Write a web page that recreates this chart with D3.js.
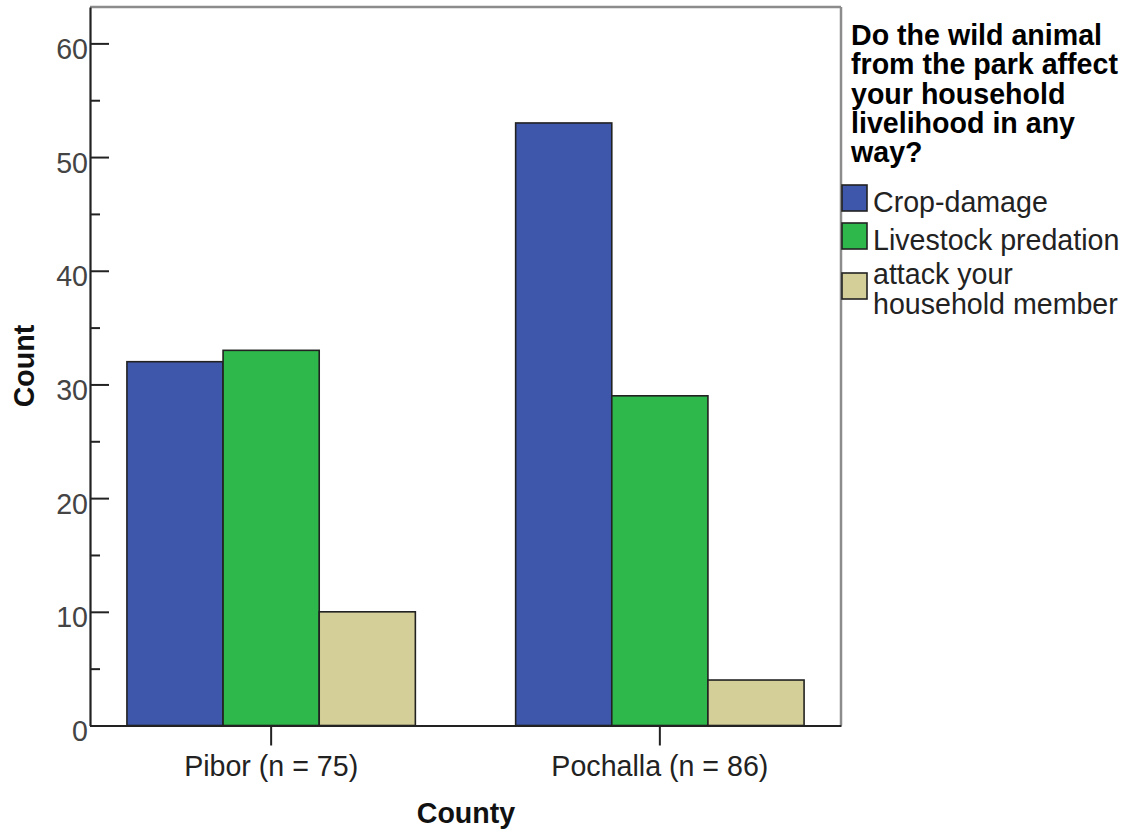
<!DOCTYPE html>
<html>
<head>
<meta charset="utf-8">
<script src="https://cdn.jsdelivr.net/npm/d3@7/dist/d3.min.js"></script>
<style>
  html, body { margin: 0; padding: 0; background: #fff; }
  text { font-family: "Liberation Sans", Arial, sans-serif; }
</style>
</head>
<body>
<svg id="chart" width="1144" height="836"></svg>
<script>
const categories = ["Pibor (n = 75)", "Pochalla (n = 86)"];
const seriesNames = ["Crop-damage", "Livestock predation", "attack your household member"];
const seriesLabelLines = [["Crop-damage"], ["Livestock predation"], ["attack your", "household member"]];
const cropDamage = [32, 53];
const livestockPredation = [33, 29];
const attackMember = [10, 4];
const seriesValues = [cropDamage, livestockPredation, attackMember];
const seriesColors = ["#3e57aa", "#2eb84b", "#d4cf98"];
const yTicks = [0, 10, 20, 30, 40, 50, 60];
const yMinorTicks = [5, 15, 25, 35, 45, 55];
const legendTitleLines = ["Do the wild animal", "from the park affect", "your household", "livelihood in any", "way?"];
const xTitle = "County";
const yTitle = "Count";

(function () {
const svg = d3.select("#chart");
const pLeft = 90, pRight = 841, pTop = 7, pBottom = 725.5;
const FONT = 28.6;

const y = d3.scaleLinear().domain([0, 63.2]).range([pBottom, pTop]);
const x0 = d3.scaleBand().domain(categories).range([pLeft, pRight])
  .paddingInner(0.258).paddingOuter(0.095);
const x1 = d3.scaleBand().domain(seriesNames).range([0, x0.bandwidth()]).padding(0);

// bars
const g = svg.append("g");
categories.forEach((c, ci) => {
  seriesNames.forEach((s, si) => {
    const v = seriesValues[si][ci];
    g.append("rect")
      .attr("x", x0(c) + x1(s))
      .attr("y", y(v))
      .attr("width", x1.bandwidth())
      .attr("height", y(0) - y(v))
      .attr("fill", seriesColors[si])
      .attr("stroke", "#222")
      .attr("stroke-width", 1.6);
  });
});

// frame (top and right, gray)
svg.append("line").attr("x1", pLeft).attr("x2", pRight).attr("y1", pTop).attr("y2", pTop)
  .attr("stroke", "#8c8c8c").attr("stroke-width", 2.5);
svg.append("line").attr("x1", pRight).attr("x2", pRight).attr("y1", pTop).attr("y2", pBottom)
  .attr("stroke", "#8c8c8c").attr("stroke-width", 2.5);

// y axis minor ticks
svg.append("g").attr("transform", `translate(${pLeft},0)`)
  .call(d3.axisLeft(y).tickValues(yMinorTicks).tickSizeInner(-10).tickSizeOuter(0).tickFormat(""))
  .call(a => a.select(".domain").remove())
  .call(a => a.selectAll("line").attr("stroke", "#222").attr("stroke-width", 2));

// y axis major
const yAx = svg.append("g").attr("transform", `translate(${pLeft},0)`)
  .call(d3.axisLeft(y).tickValues(yTicks).tickSizeInner(-19).tickSizeOuter(0).tickPadding(2));
yAx.select(".domain").attr("stroke", "#222").attr("stroke-width", 2.2);
yAx.selectAll("line").attr("stroke", "#222").attr("stroke-width", 2);
yAx.selectAll("text").attr("font-size", FONT).attr("fill", "#444")
  .attr("font-family", "Liberation Sans, Arial, sans-serif").attr("dy", "0.53em");

// x axis
const xAx = svg.append("g").attr("transform", `translate(0,${pBottom})`)
  .call(d3.axisBottom(x0).tickSizeInner(20).tickSizeOuter(0).tickPadding(10));
xAx.select(".domain").attr("stroke", "#222").attr("stroke-width", 2.2);
xAx.selectAll("line").attr("stroke", "#222").attr("stroke-width", 2);
xAx.selectAll("text").attr("font-size", FONT).attr("fill", "#222")
  .attr("font-family", "Liberation Sans, Arial, sans-serif");

// axis titles
svg.append("text").attr("x", 466).attr("y", 823).attr("text-anchor", "middle")
  .attr("font-size", FONT).attr("font-weight", "bold").attr("fill", "#111").text(xTitle);
svg.append("text").attr("transform", "translate(34,366) rotate(-90)").attr("text-anchor", "middle")
  .attr("font-size", FONT).attr("font-weight", "bold").attr("fill", "#111").text(yTitle);

// legend
const lg = svg.append("g");
const titleText = lg.append("text").attr("x", 851).attr("y", 45)
  .attr("font-size", FONT).attr("font-weight", "bold").attr("fill", "#000");
legendTitleLines.forEach((t, i) => {
  titleText.append("tspan").attr("x", 851).attr("dy", i === 0 ? 0 : 29.3).text(t);
});
const itemTop = [185, 223, 273];
seriesNames.forEach((s, i) => {
  lg.append("rect").attr("x", 842).attr("y", itemTop[i]).attr("width", 25).attr("height", 26)
    .attr("fill", seriesColors[i]).attr("stroke", "#222").attr("stroke-width", 1.6);
  const lines = seriesLabelLines[i];
  const base = lines.length === 1 ? itemTop[i] + 27 : 284;
  const tx = lg.append("text").attr("x", 873).attr("y", base)
    .attr("font-size", FONT).attr("fill", "#222");
  lines.forEach((t, j) => {
    tx.append("tspan").attr("x", 873).attr("dy", j === 0 ? 0 : 29.5).text(t);
  });
});
})();
</script>
</body>
</html>
